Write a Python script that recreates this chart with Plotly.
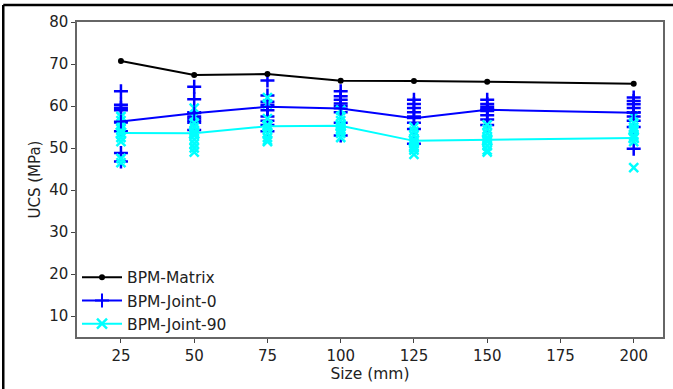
import plotly.graph_objects as go

# ---------------- data ----------------
sizes = [25, 50, 75, 100, 125, 150, 200]
matrix_ucs = [70.7, 67.4, 67.6, 66.0, 65.95, 65.8, 65.3]
joint0_ucs = [56.3, 58.25, 59.8, 59.4, 57.1, 59.1, 58.4]
joint90_ucs = [53.6, 53.5, 55.2, 55.3, 51.7, 51.9, 52.4]

joint0_samples = [
    [63.5, 60.3, 59.6, 59.0, 56.1, 54.0, 48.8, 46.8],
    [64.6, 61.6, 58.5, 57.5, 57.0, 56.5, 56.0, 54.3],
    [66.1, 62.5, 61.0, 60.3, 59.0, 57.5, 56.5, 55.5, 54.0],
    [63.5, 62.3, 61.5, 60.6, 60.0, 58.5, 56.0, 53.0],
    [61.5, 60.5, 59.5, 58.5, 57.5, 56.0, 54.5, 51.0],
    [61.5, 60.5, 59.8, 59.2, 58.8, 57.8, 56.8, 55.5],
    [62.0, 61.2, 60.4, 59.5, 58.5, 57.5, 56.5, 55.0, 49.8],
]
joint90_samples = [
    [57.5, 56.5, 55.5, 54.5, 53.5, 52.5, 51.5, 47.5, 46.5],
    [59.5, 57.5, 56.0, 55.0, 54.0, 53.0, 52.0, 51.0, 50.0, 49.0],
    [62.0, 60.5, 57.0, 55.5, 54.5, 53.5, 52.5, 51.8, 51.5],
    [59.0, 57.5, 56.5, 55.5, 55.0, 54.5, 54.0, 53.5, 52.5],
    [55.0, 54.0, 53.0, 52.0, 51.0, 50.5, 50.0, 49.5, 48.5],
    [55.5, 54.5, 53.5, 52.5, 52.0, 51.5, 50.5, 49.5, 49.0],
    [57.5, 56.0, 55.0, 54.5, 54.0, 53.0, 52.5, 51.5, 45.3],
]

x_ticks = [25, 50, 75, 100, 125, 150, 175, 200]
y_ticks = [10, 20, 30, 40, 50, 60, 70, 80]

BLUE = "#0000ff"
CYAN = "#00ffff"
BLACK = "#000000"
FONT = "DejaVu Sans"

fig = go.Figure()

# individual samples (drawn first, below the lines)
def flat(samples):
    xs, ys = [], []
    for s, vals in zip(sizes, samples):
        xs += [s] * len(vals)
        ys += vals
    return xs, ys

x0, y0 = flat(joint0_samples)
fig.add_trace(go.Scatter(x=x0, y=y0, mode="markers", showlegend=False,
                         marker=dict(symbol="cross-thin", size=10,
                                     line=dict(color=BLUE, width=2.5)),
                         hoverinfo="skip"))
x9, y9 = flat(joint90_samples)
fig.add_trace(go.Scatter(x=x9, y=y9, mode="markers", showlegend=False,
                         marker=dict(symbol="x-thin", size=9,
                                     line=dict(color=CYAN, width=2.5)),
                         hoverinfo="skip"))

# mean lines
fig.add_trace(go.Scatter(x=sizes, y=matrix_ucs, mode="lines+markers", name="BPM-Matrix",
                         line=dict(color=BLACK, width=2),
                         marker=dict(symbol="circle", size=6, color=BLACK)))
fig.add_trace(go.Scatter(x=sizes, y=joint0_ucs, mode="lines+markers", name="BPM-Joint-0",
                         line=dict(color=BLUE, width=2),
                         marker=dict(symbol="cross-thin", size=10,
                                     line=dict(color=BLUE, width=2))))
fig.add_trace(go.Scatter(x=sizes, y=joint90_ucs, mode="lines+markers", name="BPM-Joint-90",
                         line=dict(color=CYAN, width=2),
                         marker=dict(symbol="x-thin", size=10,
                                     line=dict(color=CYAN, width=2.5))))

axis_common = dict(showgrid=False, zeroline=False, showline=True, mirror=True,
                   linecolor="#666666", linewidth=1.5, ticks="outside", ticklen=4,
                   tickcolor="#444444", tickwidth=1,
                   tickfont=dict(family=FONT, size=15, color="#222222"))

fig.update_layout(
    width=673, height=389,
    margin=dict(l=77, r=8, t=22, b=52),
    paper_bgcolor="white", plot_bgcolor="white",
    font=dict(family=FONT, color="#222222"),
    xaxis=dict(range=[10, 210], tickvals=x_ticks,
               title=dict(text="Size (mm)", font=dict(family=FONT, size=15.5), standoff=3),
               **axis_common),
    yaxis=dict(range=[5, 80], tickvals=y_ticks,
               title=dict(text="UCS (MPa)", font=dict(family=FONT, size=15), standoff=5),
               **axis_common),
    legend=dict(x=0.0, y=-0.012, xanchor="left", yanchor="bottom",
                bgcolor="rgba(255,255,255,0)", borderwidth=0,
                font=dict(family=FONT, size=15.5, color="#222222"),
                tracegroupgap=0, itemwidth=40),
    shapes=[
        dict(type="line", xref="paper", yref="paper",
             x0=(3 - 77) / 588, x1=(3 - 77) / 588, y0=(337 - 5) / 315, y1=(337 - 400) / 315,
             line=dict(color="black", width=2.5)),
        dict(type="line", xref="paper", yref="paper",
             x0=(3 - 77) / 588, x1=(700 - 77) / 588, y0=(337 - 5) / 315, y1=(337 - 5) / 315,
             line=dict(color="black", width=2.5)),
    ],
)

fig.write_html("out.html")
